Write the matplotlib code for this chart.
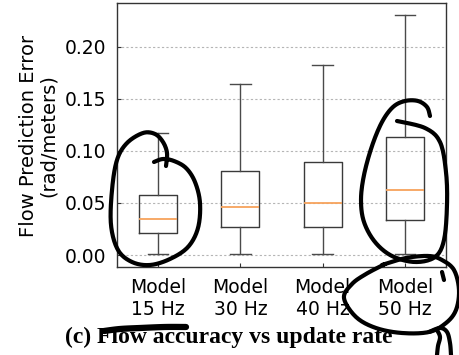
import numpy as np
import matplotlib
matplotlib.use("Agg")
import matplotlib.pyplot as plt

# ---- data ----
categories = ["Model\n15 Hz", "Model\n30 Hz", "Model\n40 Hz", "Model\n50 Hz"]
whisker_low = [0.001, 0.001, 0.001, 0.001]
q1 = [0.021, 0.027, 0.027, 0.034]
median = [0.035, 0.046, 0.050, 0.062]
q3 = [0.058, 0.081, 0.089, 0.113]
whisker_high = [0.117, 0.164, 0.182, 0.230]
yticks = [0.00, 0.05, 0.10, 0.15, 0.20]
caption = "(c) Flow accuracy vs update rate"

W, H = 459, 355
fig = plt.figure(figsize=(W / 100, H / 100), dpi=100)
ax = fig.add_axes([117 / W, 1 - 267 / H, (446 - 117) / W, (267 - 3) / H])

stats = []
for lo, a, m, b, hi in zip(whisker_low, q1, median, q3, whisker_high):
    stats.append(dict(whislo=lo, q1=a, med=m, q3=b, whishi=hi, fliers=[]))

ax.bxp(stats, positions=range(1, len(stats) + 1), widths=0.46,
       capwidths=0.25, showfliers=False,
       boxprops=dict(color="#3a3a3a", lw=1.0),
       whiskerprops=dict(color="#4a4a4a", lw=1.0),
       capprops=dict(color="#4a4a4a", lw=1.0),
       medianprops=dict(color="#f7a35c", lw=1.3))

ax.set_xlim(0.5, 4.5)
ax.set_ylim(-0.0115, 0.2418)
ax.set_yticks(yticks)
ax.set_yticklabels([f"{v:.2f}" for v in yticks])
ax.set_xticks(range(1, len(categories) + 1))
ax.set_xticklabels(categories)
ax.tick_params(axis="both", direction="in", labelsize=13.5, colors="#333333",
               labelcolor="black", length=3)
ax.tick_params(axis="y", pad=8)
ax.tick_params(axis="x", pad=8)
ax.yaxis.grid(True, linestyle=(0, (2, 2)), color="#b5b5b5", lw=0.8)
ax.set_axisbelow(True)
for s in ax.spines.values():
    s.set_color("#333333")
    s.set_linewidth(1.0)

fig.text(38.5 / W, 1 - 136 / H, "Flow Prediction Error\n(rad/meters)",
         rotation=90, ha="center", va="center", multialignment="center",
         fontsize=14, linespacing=1.1)

fig.text(65 / W, 1 - 343 / H, caption, ha="left", va="baseline",
         fontsize=17, fontweight="bold", family="Liberation Serif")

# ---- hand-drawn pen annotations on top of the figure ----
ov = fig.add_axes([0, 0, 1, 1], zorder=10)
ov.set_xlim(0, W)
ov.set_ylim(H, 0)
ov.axis("off")
ov.patch.set_alpha(0)


def catmull(pts, n=12):
    p = np.asarray(pts, float)
    p = np.vstack([p[0], p, p[-1]])
    out = []
    for i in range(1, len(p) - 2):
        p0, p1, p2, p3 = p[i - 1], p[i], p[i + 1], p[i + 2]
        for t in np.linspace(0, 1, n, endpoint=False):
            t2, t3 = t * t, t * t * t
            out.append(0.5 * ((2 * p1) + (-p0 + p2) * t +
                              (2 * p0 - 5 * p1 + 4 * p2 - p3) * t2 +
                              (-p0 + 3 * p1 - 3 * p2 + p3) * t3))
    out.append(p[-2])
    return np.array(out)


strokes = [
    [(154, 162), (163, 159), (174, 161), (186, 168), (195, 182), (200, 203),
     (198, 228), (188, 247), (170, 259), (150, 265), (132, 262), (118, 250),
     (111, 225), (112, 190), (117, 160), (127, 143), (143, 133), (155, 134),
     (163, 142), (167, 153), (166, 166)],
    [(430, 116), (427, 107), (418, 101), (405, 101), (393, 107), (382, 122),
     (372, 146), (364, 175), (361, 200), (364, 222), (375, 242), (392, 256),
     (415, 262), (435, 257), (444, 240), (447, 205), (446, 172), (440, 142),
     (425, 128), (397, 121)],
    [(382, 265), (406, 258), (429, 256), (442, 260), (454, 270), (459, 290),
     (456, 310), (446, 323), (429, 332), (402, 333), (376, 328), (356, 317),
     (344, 298), (352, 284), (366, 274), (385, 264)],
    [(442, 272), (444, 280)],
    [(429, 332), (440, 328), (447, 332), (450, 343), (451, 355)],
    [(437, 330), (440, 337), (438, 346), (437, 355)],
]
for s in strokes:
    c = catmull(s)
    ov.plot(c[:, 0], c[:, 1], color="black", lw=3.0, solid_capstyle="round",
            solid_joinstyle="round")

blot = catmull([(104, 331), (120, 329), (140, 328), (165, 327), (186, 327)])
ov.plot(blot[:, 0], blot[:, 1], color="black", lw=4.5, solid_capstyle="round")

fig.savefig("out.png", dpi=100)
